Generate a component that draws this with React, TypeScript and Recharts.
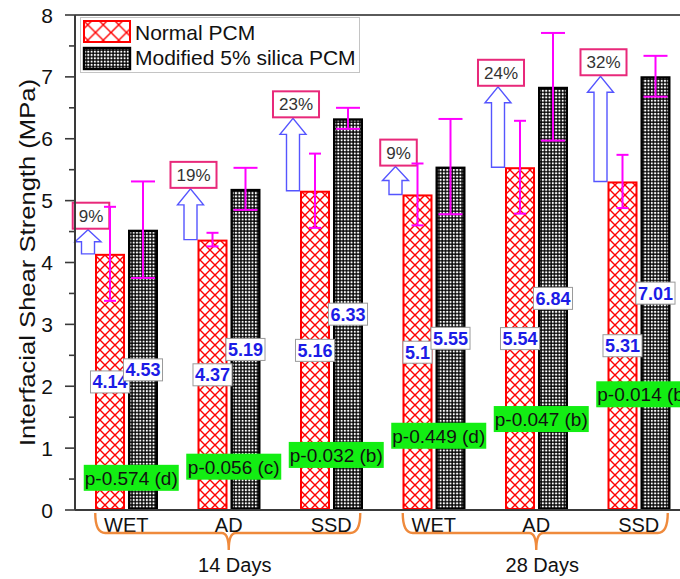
import React from 'react'
import {
  BarChart,
  Bar,
  XAxis,
  YAxis,
  ErrorBar,
  LabelList,
  ReferenceLine,
  ReferenceDot,
  Legend,
} from 'recharts'

// curing age groups and surface conditions along the x axis
const groups = ['14 Days', '28 Days']
const conditions = ['WET', 'AD', 'SSD']

// interfacial shear strength, MPa
const normalPcm = [4.14, 4.37, 5.16, 5.1, 5.54, 5.31]
const modifiedPcm = [4.53, 5.19, 6.33, 5.55, 6.84, 7.01]

// standard deviations (symmetric)
const normalErr = [0.76, 0.11, 0.6, 0.5, 0.75, 0.43]
const modifiedErr = [0.78, 0.34, 0.17, 0.77, 0.87, 0.33]

// strength gain of the modified mix and significance tags
const gainLabels = ['9%', '19%', '23%', '9%', '24%', '32%']
const pValueLabels = [
  'p-0.574 (d)',
  'p-0.056 (c)',
  'p-0.032 (b)',
  'p-0.449 (d)',
  'p-0.047 (b)',
  'p-0.014 (b)',
]

const yTicks = [0, 0.5, 1, 1.5, 2, 2.5, 3, 3.5, 4, 4.5, 5, 5.5, 6, 6.5, 7, 7.5, 8]

const data = groups.flatMap((group, gi) =>
  conditions.map((condition, ci) => {
    const i = gi * conditions.length + ci
    return {
      id: `${group} ${condition}`,
      group,
      condition,
      normal: normalPcm[i],
      modified: modifiedPcm[i],
      normalErr: normalErr[i],
      modifiedErr: modifiedErr[i],
      gain: gainLabels[i],
      pValue: pValueLabels[i],
    }
  })
)

// where the p-value tags sit, in axis units
const pTagLevel = [0.52, 0.7, 0.89, 1.2, 1.47, 1.87]

const FONT = '"Liberation Sans", Arial, Helvetica, sans-serif'
const AXIS = '#3a3a3a'
const CHART_W = 700
const CHART_H = 579
const Y_AXIS_W = 75
const X_AXIS_H = 69
const TOP = 15

// rough Arial advance widths, em units
const textWidth = (s: string, size: number) => {
  let w = 0
  for (const ch of s) {
    if (ch === '.') w += 0.278
    else if (ch === '%') w += 0.889
    else w += 0.556
  }
  return w * size
}

const Patterns = ({ suffix = '', hatch = 10 }: { suffix?: string; hatch?: number }) => (
  <defs>
    <pattern id={`crossHatch${suffix}`} width={hatch} height={hatch} patternUnits="userSpaceOnUse">
      <rect width={hatch} height={hatch} fill="#fff" />
      <path
        d={`M-1,-1 L${hatch + 1},${hatch + 1} M${hatch + 1},-1 L-1,${hatch + 1}`}
        stroke="#ff0000"
        strokeWidth={1.4}
      />
    </pattern>
    <pattern id={`silicaDots${suffix}`} width="3.3" height="3.3" patternUnits="userSpaceOnUse">
      <rect width="3.3" height="3.3" fill="#000" />
      <rect x="0.7" y="0.7" width="2" height="2" fill="#fff" />
    </pattern>
  </defs>
)

const GainTag = ({ cx, bottom, text }: { cx: number; bottom: number; text: string }) => {
  const w = textWidth(text, 17) + 12
  const h = 26
  return (
    <g>
      <rect x={cx - w / 2} y={bottom - h} width={w} height={h} fill="#fff" stroke="#e8297a" strokeWidth={2} />
      <text
        x={cx}
        y={bottom - h / 2}
        dy="0.36em"
        textAnchor="middle"
        fontSize={17}
        fontFamily={FONT}
        fill="#333"
      >
        {text}
      </text>
    </g>
  )
}

// red hatched bar plus the gain arrow that climbs to the modified value
const NormalBarShape = (props: any) => {
  const { x, y, width, height, index } = props
  const row = data[index]
  const perUnit = height / row.normal
  const base = y + height
  const tipY = base - row.modified * perUnit
  const cx = x - 7
  const len = y - tipY
  const headH = Math.min(16, len * 0.5)
  const shaft = 6.5
  const head = 13
  const arrow = [
    `M${cx - shaft},${y}`,
    `L${cx - shaft},${tipY + headH}`,
    `L${cx - head},${tipY + headH}`,
    `L${cx},${tipY}`,
    `L${cx + head},${tipY + headH}`,
    `L${cx + shaft},${tipY + headH}`,
    `L${cx + shaft},${y}`,
    'Z',
  ].join(' ')
  return (
    <g>
      <path d={arrow} fill="#fff" stroke="#5555ff" strokeWidth={1.4} />
      <GainTag cx={cx + 3} bottom={tipY - 1} text={row.gain} />
      <rect
        x={x + 1}
        y={y + 1}
        width={width - 2}
        height={height - 2}
        fill="url(#crossHatch)"
        stroke="#ff0000"
        strokeWidth={2}
      />
    </g>
  )
}

const ModifiedBarShape = (props: any) => {
  const { x, y, width, height } = props
  return (
    <rect
      x={x + 1.2}
      y={y + 1.2}
      width={width - 2.4}
      height={height - 2.4}
      fill="url(#silicaDots)"
      stroke="#000"
      strokeWidth={2.4}
    />
  )
}

// white value box with blue bold figures, centred on the bar
const ValueTag = (props: any) => {
  const { x, y, width, height, value } = props
  const cx = x + width / 2
  const cy = y + height / 2
  const s = String(value)
  const w = textWidth(s, 18) + 4
  const h = 22
  return (
    <g>
      <rect x={cx - w / 2} y={cy - h / 2} width={w} height={h} fill="#fff" stroke="#9a9a9a" strokeWidth={1} />
      <text
        x={cx}
        y={cy}
        dy="0.36em"
        textAnchor="middle"
        fontSize={18}
        fontWeight="bold"
        fontFamily={FONT}
        fill="#1c1ce6"
      >
        {s}
      </text>
    </g>
  )
}

const PValueTag = ({ cx, cy, text }: { cx: number; cy: number; text: string }) => {
  const w = 95
  const h = 26
  const x = cx + 5
  return (
    <g>
      <rect x={x - w / 2} y={cy - h / 2} width={w} height={h} fill="#13ee13" />
      <text
        x={x}
        y={cy}
        dy="0.36em"
        textAnchor="middle"
        fontSize={19}
        fontFamily={FONT}
        fill="#111"
      >
        {text}
      </text>
    </g>
  )
}

const YTick = (props: any) => {
  const { y, payload } = props
  const v = payload.value as number
  const major = Number.isInteger(v)
  return (
    <g>
      <line x1={Y_AXIS_W - (major ? 10 : 6)} x2={Y_AXIS_W} y1={y} y2={y} stroke={AXIS} strokeWidth={1.6} />
      {major && (
        <text
          x={Y_AXIS_W - 22}
          y={y}
          dy="0.36em"
          textAnchor="end"
          fontSize={21}
          fontFamily={FONT}
          fill="#111"
        >
          {v}
        </text>
      )}
    </g>
  )
}

// condition name under each pair; the middle tick of a group also draws the brace and age
const XTick = (props: any) => {
  const { x, index } = props
  const axisY = CHART_H - X_AXIS_H
  const band = (CHART_W - 10 - Y_AXIS_W) / data.length
  const row = data[index]
  const middle = index % conditions.length === 1
  let brace = null
  if (middle) {
    const left = x - band - 31
    const right = x + band + 29
    const top = axisY + 3
    const bar = axisY + 23
    const tip = axisY + 40
    brace = (
      <g>
        <path
          d={[
            `M${left},${top}`,
            `Q${left},${bar} ${left + 10},${bar}`,
            `L${x - 7},${bar}`,
            `Q${x},${bar} ${x},${tip}`,
            `Q${x},${bar} ${x + 7},${bar}`,
            `L${right - 10},${bar}`,
            `Q${right},${bar} ${right},${top}`,
          ].join(' ')}
          fill="none"
          stroke="#ef8a3c"
          strokeWidth={2.4}
        />
        <text x={x + 6} y={axisY + 62} textAnchor="middle" fontSize={20} fontFamily={FONT} fill="#111">
          {row.group}
        </text>
      </g>
    )
  }
  return (
    <g>
      {brace}
      <text x={x} y={axisY + 22} textAnchor="middle" fontSize={20} fontFamily={FONT} fill="#111">
        {row.condition}
      </text>
    </g>
  )
}

const YTitle = (props: any) => {
  const vb = props.viewBox || { x: 0, y: TOP, width: Y_AXIS_W, height: 495 }
  const cy = vb.y + vb.height / 2
  const bx = 35
  return (
    <text
      x={bx}
      y={cy}
      transform={`rotate(-90, ${bx}, ${cy})`}
      textAnchor="middle"
      fontSize={22}
      fontFamily={FONT}
      fill="#111"
      textLength={367}
      lengthAdjust="spacingAndGlyphs"
    >
      Interfacial Shear Strength (MPa)
    </text>
  )
}

const LegendBox = () => (
  <svg width={281} height={57} style={{ display: 'block', overflow: 'visible' }}>
    <Patterns suffix="Key" hatch={15.5} />
    <rect x={0.5} y={0.5} width={279} height={55} fill="#fff" stroke="#c4c4c4" strokeWidth={1} />
    <rect x={4} y={4} width={46} height={21} fill="url(#crossHatchKey)" stroke="#ff0000" strokeWidth={2} />
    <text x={55} y={23} fontSize={21} fontFamily={FONT} fill="#111">
      Normal PCM
    </text>
    <rect x={4} y={31} width={46} height={21} fill="url(#silicaDotsKey)" stroke="#000" strokeWidth={2.4} />
    <text x={55} y={48} fontSize={21} fontFamily={FONT} fill="#111">
      Modified 5% silica PCM
    </text>
  </svg>
)

export default function App() {
  return (
    <div
      style={{
        position: 'absolute',
        left: 0,
        top: 0,
        width: 680,
        height: 579,
        overflow: 'hidden',
        background: '#fff',
      }}
    >
      <BarChart
        width={CHART_W}
        height={CHART_H}
        data={data}
        margin={{ top: TOP, right: 10, bottom: 0, left: 0 }}
        barSize={30}
        barGap={3}
        style={{ fontFamily: FONT }}
      >
        <Patterns />
        <XAxis
          dataKey="id"
          height={X_AXIS_H}
          interval={0}
          tickLine={false}
          tickSize={0}
          tickMargin={0}
          axisLine={{ stroke: AXIS, strokeWidth: 2 }}
          tick={<XTick />}
        />
        <YAxis
          width={Y_AXIS_W}
          domain={[0, 8]}
          ticks={yTicks}
          interval={0}
          tickLine={false}
          tickSize={10}
          tickMargin={12}
          axisLine={{ stroke: AXIS, strokeWidth: 2 }}
          tick={<YTick />}
          label={<YTitle />}
        />
        <ReferenceLine y={8} stroke="#5a5a5a" strokeWidth={2} />
        <Legend
          layout="vertical"
          verticalAlign="middle"
          align="center"
          wrapperStyle={{ left: 80, top: 17, width: 281, height: 57 }}
          content={<LegendBox />}
        />
        <Bar dataKey="normal" name="Normal PCM" isAnimationActive={false} shape={<NormalBarShape />}>
          <ErrorBar dataKey="normalErr" width={6} stroke="#ff00ff" strokeWidth={2} direction="y" isAnimationActive={false} />
          <LabelList dataKey="normal" position="center" content={<ValueTag />} />
        </Bar>
        <Bar dataKey="modified" name="Modified 5% silica PCM" isAnimationActive={false} shape={<ModifiedBarShape />}>
          <ErrorBar dataKey="modifiedErr" width={12} stroke="#ff00ff" strokeWidth={2} direction="y" isAnimationActive={false} />
          <LabelList dataKey="modified" position="center" content={<ValueTag />} />
        </Bar>
        {data.map((row, i) => (
          <ReferenceDot
            key={row.id}
            x={row.id}
            y={pTagLevel[i]}
            r={0}
            shape={(p: any) => <PValueTag cx={p.cx} cy={p.cy} text={row.pValue} />}
          />
        ))}
      </BarChart>
    </div>
  )
}
